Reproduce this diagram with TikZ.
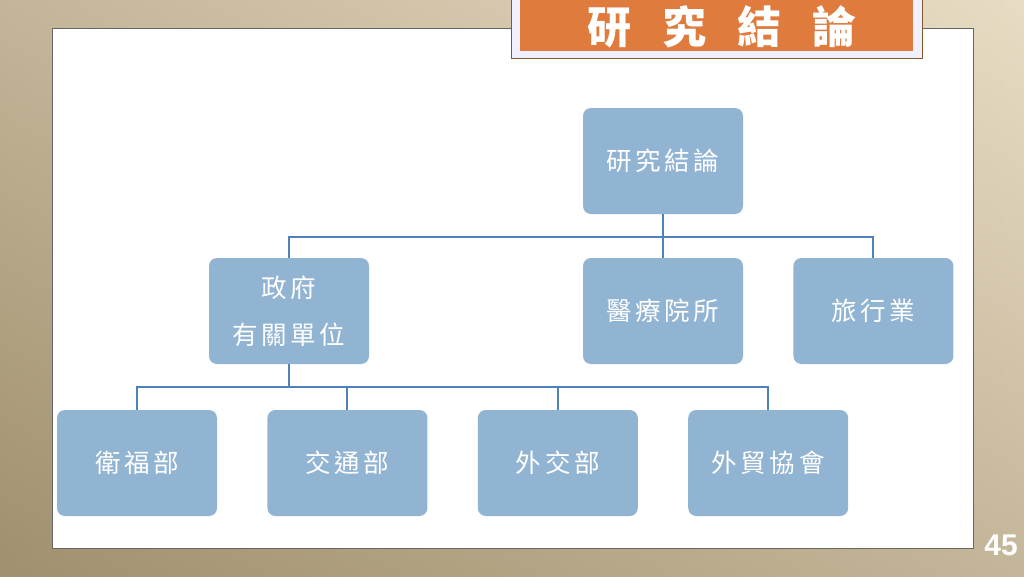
\documentclass[tikz,border=0pt]{standalone}
\usepackage{fontspec}
\usepackage{tikz}
\usetikzlibrary{calc, positioning}
\newfontfamily\cjk[LetterSpace=14]{Noto Sans CJK TC}
\newfontfamily\titlefont{Noto Sans CJK TC}
\newfontfamily\numfont{Liberation Sans}
\definecolor{boxblue}{RGB}{146,180,211}
\definecolor{linkblue}{RGB}{79,129,189}
\definecolor{titleorange}{RGB}{224,123,62}
\definecolor{bgtop}{RGB}{232,220,196}
\definecolor{bgbot}{RGB}{160,144,110}
\tikzset{
  unit/.style={fill=boxblue, rounded corners=8pt, minimum width=160pt, minimum height=106pt,
    text=white, align=center, font=\cjk\fontsize{25.5}{47}\selectfont},
  link/.style={draw=linkblue, line width=2pt},
}
\begin{document}
\begin{tikzpicture}[x=1pt, y=1pt]
    \useasboundingbox (0,0) rectangle (1024,-576);
    % Background and white panel
    \shade[top color=bgtop, bottom color=bgbot] (0,0) rectangle (1024,-576);
    \shade[left color=bgbot, right color=bgtop, opacity=0.5] (0,0) rectangle (1024,-576);
    \draw[fill=white, draw=black!60, line width=1pt] (52,-28) rectangle (973,-548);
    % Title tab
    \draw[fill=white!94!blue, draw=brown!70!black, line width=1pt] (511,2) rectangle (922,-58);
    \fill[titleorange] (520,2) rectangle (913,-51);
    \node[text=white, font=\titlefont\bfseries\fontsize{44}{44}\selectfont] (title) at (722,-27)
        {研\hspace{31pt}究\hspace{31pt}結\hspace{31pt}論};
    % Top levels
    \node[unit] (root) at (663,-161) {研究結論};
    \node[unit] (gov) at (289,-311) {政府\\有關單位};
    \node[unit] (med) at (663,-311) {醫療院所};
    \node[unit, right=50pt of med] (trav) {旅行業};
    % Government units
    \node[unit] (moh) at (137,-463) {衛福部};
    \node[unit, right=50pt of moh] (motc) {交通部};
    \node[unit, right=50pt of motc] (mofa) {外交部};
    \node[unit, right=50pt of mofa] (taitra) {外貿協會};
    % Links
    \draw[link] (root.south) -- (med.north);
    \draw[link] (root.south) -- ++(0,-23) -| (gov.north);
    \draw[link] (root.south) -- ++(0,-23) -| (trav.north);
    \foreach \n in {moh, motc, mofa, taitra}
        \draw[link] (gov.south) -- ++(0,-23) -| (\n.north);
    % Page number
    \node[text=white, font=\numfont\bfseries\fontsize{30}{30}\selectfont] (page) at (1001,-545) {45};
\end{tikzpicture}
\end{document}
